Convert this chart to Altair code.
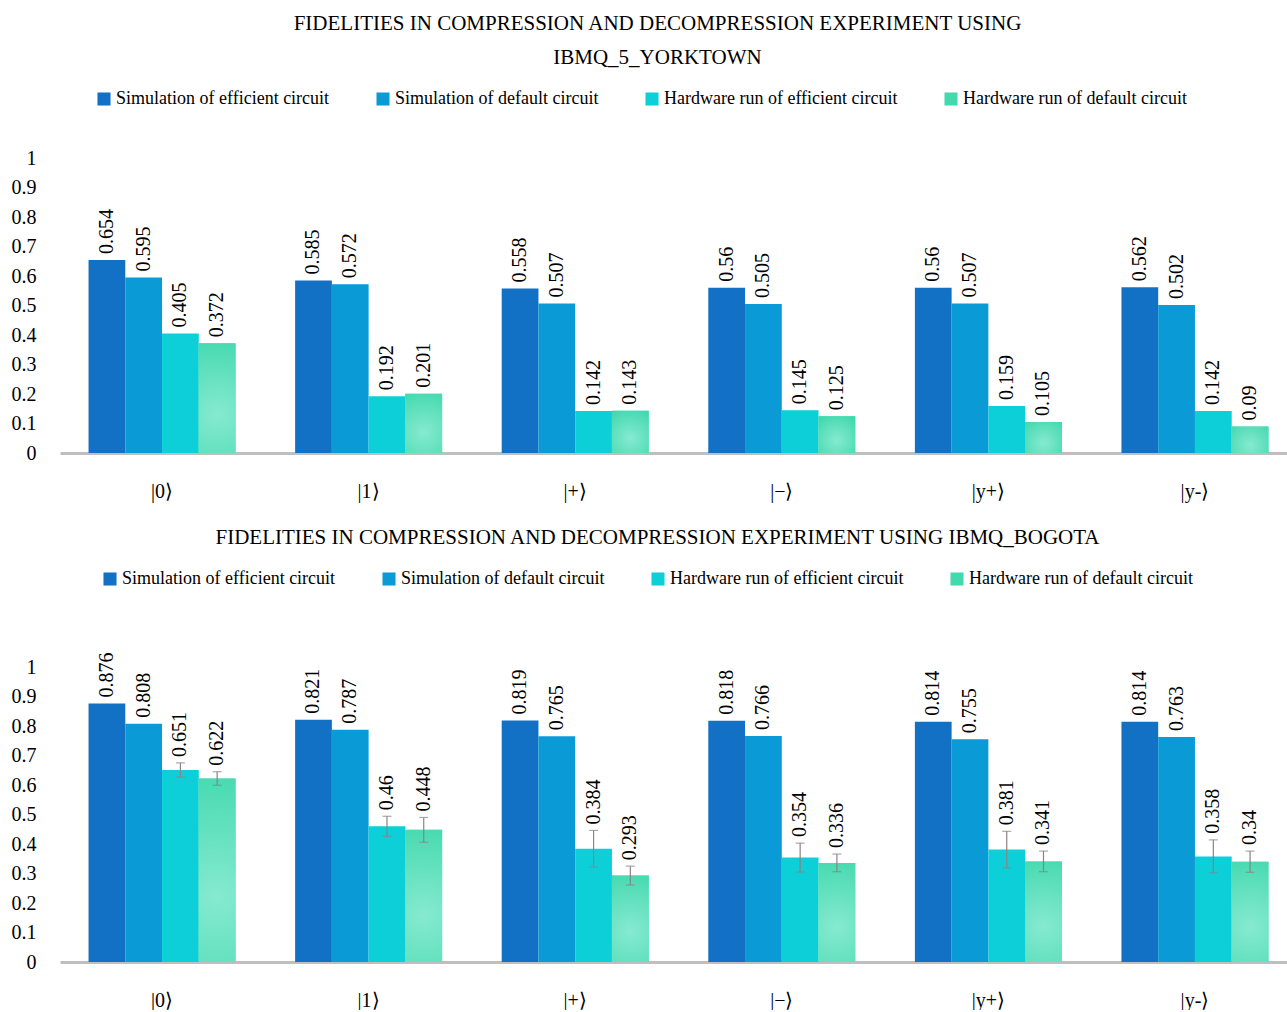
import altair as alt
import pandas as pd

categories = ["|0⟩", "|1⟩", "|+⟩", "|−⟩", "|y+⟩", "|y-⟩"]
series = ["Simulation of efficient circuit", "Simulation of default circuit",
          "Hardware run of efficient circuit", "Hardware run of default circuit"]
colors = ["#1270C5", "#0A9AD6", "#0CCFD8", "#42D9AF"]
y_ticks = [0, 0.1, 0.2, 0.3, 0.4, 0.5, 0.6, 0.7, 0.8, 0.9, 1]

# ibmq_5_yorktown
top_sim_eff = [0.654, 0.585, 0.558, 0.56, 0.56, 0.562]
top_sim_def = [0.595, 0.572, 0.507, 0.505, 0.507, 0.502]
top_hw_eff = [0.405, 0.192, 0.142, 0.145, 0.159, 0.142]
top_hw_def = [0.372, 0.201, 0.143, 0.125, 0.105, 0.09]

# ibmq_bogota
bot_sim_eff = [0.876, 0.821, 0.819, 0.818, 0.814, 0.814]
bot_sim_def = [0.808, 0.787, 0.765, 0.766, 0.755, 0.763]
bot_hw_eff = [0.651, 0.46, 0.384, 0.354, 0.381, 0.358]
bot_hw_def = [0.622, 0.448, 0.293, 0.336, 0.341, 0.34]
bot_hw_eff_err = [0.024, 0.034, 0.062, 0.049, 0.062, 0.056]
bot_hw_def_err = [0.023, 0.042, 0.032, 0.030, 0.035, 0.036]

FONT = "Liberation Serif"


def build_df(vals, errs):
    rows = []
    for s, v, e in zip(series, vals, errs):
        for c, val, er in zip(categories, v, e):
            rows.append({"cat": c, "series": s, "value": val, "err": er})
    return pd.DataFrame(rows)


zeros = [0] * 6
df_top = build_df([top_sim_eff, top_sim_def, top_hw_eff, top_hw_def], [zeros] * 4)
df_bot = build_df([bot_sim_eff, bot_sim_def, bot_hw_eff, bot_hw_def],
                  [zeros, zeros, bot_hw_eff_err, bot_hw_def_err])

green_gradient = alt.RadialGradient(
    gradient="radial", x1=0.5, y1=0.65, r1=0.0, x2=0.5, y2=0.65, r2=0.75,
    stops=[alt.GradientStop(offset=0, color="#86EAD0"),
           alt.GradientStop(offset=1, color="#40D8AD")])

X_AXIS = alt.Axis(labelAngle=0, labelFontSize=20, labelFont=FONT, labelColor="#000",
                  ticks=False, domainColor="#bfbfbf", domainWidth=3, labelPadding=28,
                  title=None)
Y_AXIS = alt.Axis(values=y_ticks, tickCount=11, format="~g", grid=False, domain=False,
                  ticks=False, labelOverlap=False, labelSeparation=0,
                  labelFontSize=20, labelFont=FONT, labelColor="#000", labelPadding=24,
                  title=None)
X_SCALE = alt.Scale(paddingInner=0.2885, paddingOuter=0.114, align=0.606)
Y_SCALE = alt.Scale(domain=[0, 1], nice=False)

XS = alt.X("cat:N", sort=categories, scale=X_SCALE, axis=X_AXIS)
XO = alt.XOffset("series:N", sort=series, scale=alt.Scale(paddingInner=0, paddingOuter=0))


def Yq(field):
    return alt.Y(field, scale=Y_SCALE, axis=Y_AXIS)


def make_chart(df, title, legend_x, legend_y, with_err):
    base = alt.Chart(df)
    bars = base.mark_bar().encode(
        x=XS, xOffset=XO, y=Yq("value:Q"),
        color=alt.Color("series:N", sort=series,
                        scale=alt.Scale(domain=series, range=colors),
                        legend=alt.Legend(title=None, orient="none", direction="horizontal",
                                          legendX=legend_x, legendY=legend_y,
                                          symbolType="square", symbolSize=170,
                                          symbolStrokeWidth=0, labelFont=FONT,
                                          labelFontSize=18, labelColor="#000",
                                          labelLimit=0,
                                          labelOffset=3, columnPadding=44)),
    )
    green = base.transform_filter(alt.datum.series == series[3]).mark_bar(
        fill=green_gradient).encode(x=XS, xOffset=XO, y=Yq("value:Q"))
    labels = base.transform_calculate(top="datum.value + datum.err").mark_text(
        angle=270, align="left", baseline="middle", dx=6, font=FONT, fontSize=20,
        color="#000").encode(
        x=XS, xOffset=XO, y=Yq("top:Q"),
        text=alt.Text("value:Q", format=".3~f"),
    )
    layers = [bars, green]
    if with_err:
        edf = df[df["err"] > 0]
        eb = alt.Chart(edf).transform_calculate(
            lo="datum.value - datum.err", hi="datum.value + datum.err")
        rule = eb.mark_rule(color="#8a8383", strokeWidth=1.2).encode(
            x=XS, xOffset=XO, y=Yq("lo:Q"), y2="hi:Q")
        cap_lo = eb.mark_tick(color="#8a8383", size=9, thickness=1.2).encode(
            x=XS, xOffset=XO, y=Yq("lo:Q"))
        cap_hi = eb.mark_tick(color="#8a8383", size=9, thickness=1.2).encode(
            x=XS, xOffset=XO, y=Yq("hi:Q"))
        layers += [rule, cap_lo, cap_hi]
    layers.append(labels)
    return alt.layer(*layers).properties(
        width=1227, height=295,
        title=alt.TitleParams(text=title, font=FONT, fontSize=21, fontWeight="normal",
                              color="#000", anchor="middle", offset=22, lineHeight=34,
                              dx=-16),
    )


top = make_chart(df_top,
                 ["FIDELITIES IN COMPRESSION AND DECOMPRESSION EXPERIMENT USING",
                  "IBMQ_5_YORKTOWN"], 35, -68, False)
bot = make_chart(df_bot,
                 "FIDELITIES IN COMPRESSION AND DECOMPRESSION EXPERIMENT USING IBMQ_BOGOTA",
                 41, -97, True)

chart = alt.vconcat(top, bot, spacing=26).resolve_scale(color="independent").resolve_legend(
    color="independent").properties(
    padding={"left": 11, "right": 0, "top": 13, "bottom": 0}
).configure_view(stroke=None).configure_axisY(labelOverlap=False)

chart.save("out.html", embed_options={"renderer": "svg", "actions": False})
